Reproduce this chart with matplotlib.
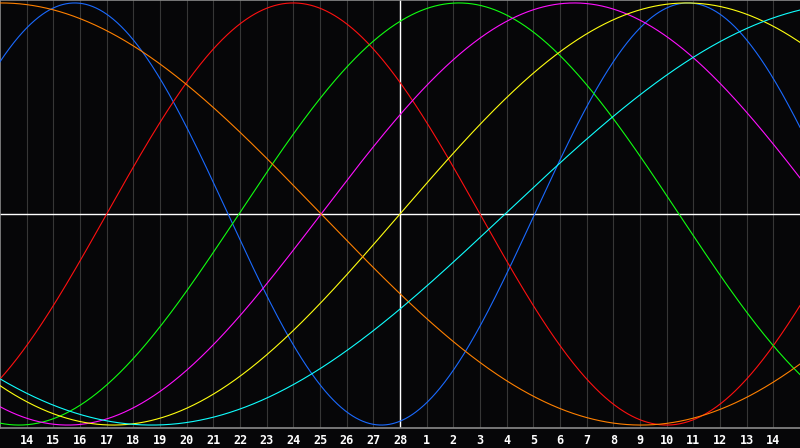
import numpy as np
import matplotlib
matplotlib.use('Agg')
from matplotlib import pyplot as plt

# day labels under the grid lines (end of Feb into March)
day_labels = [str(d) for d in range(14, 29)] + [str(d) for d in range(1, 15)]

# cycle lengths in days, and the day (from the left edge) where each
# curve crosses zero going up
periods = [23, 28, 33, 38, 43, 48, 53]
zero_days = [20.05, 4.0, 8.96, 12.04, 15.0, -11.96, 18.94]

colors = ['#1a6aff', '#ff1010', '#10ff10', '#ff10ff', '#ffff10', '#ff8000', '#10ffff']

n_days = 30
t = np.linspace(0, n_days, 1201)

fig = plt.figure(figsize=(8, 4.48), dpi=100)
fig.patch.set_facecolor('#060608')
ax = fig.add_axes([0, 20 / 448, 1, 428 / 448])
ax.set_facecolor('#060608')

# day grid
for k in range(1, n_days):
    ax.axvline(k, color='#363636', lw=0.8, zorder=1)

ax.axhline(0, color='white', lw=1.0, zorder=2)
ax.axvline(15, color='white', lw=1.0, zorder=2)

for period, z, c in zip(periods, zero_days, colors):
    ax.plot(t, np.sin(2 * np.pi * (t - z) / period), color=c, lw=0.8, zorder=3)

ax.set_xlim(0, n_days)
ax.set_ylim(-1.014, 1.014)

ax.set_xticks(range(1, n_days))
ax.set_xticklabels(day_labels, color='white', fontsize=8.5,
                   fontweight='bold', family='DejaVu Sans Mono')
ax.tick_params(axis='x', length=0, pad=4)
ax.set_yticks([])

for side in ['top', 'left', 'bottom']:
    ax.spines[side].set_color('#8a8a8a')
    ax.spines[side].set_linewidth(1.2)
ax.spines['right'].set_visible(False)

fig.savefig('out.png', dpi=100, facecolor=fig.get_facecolor())
